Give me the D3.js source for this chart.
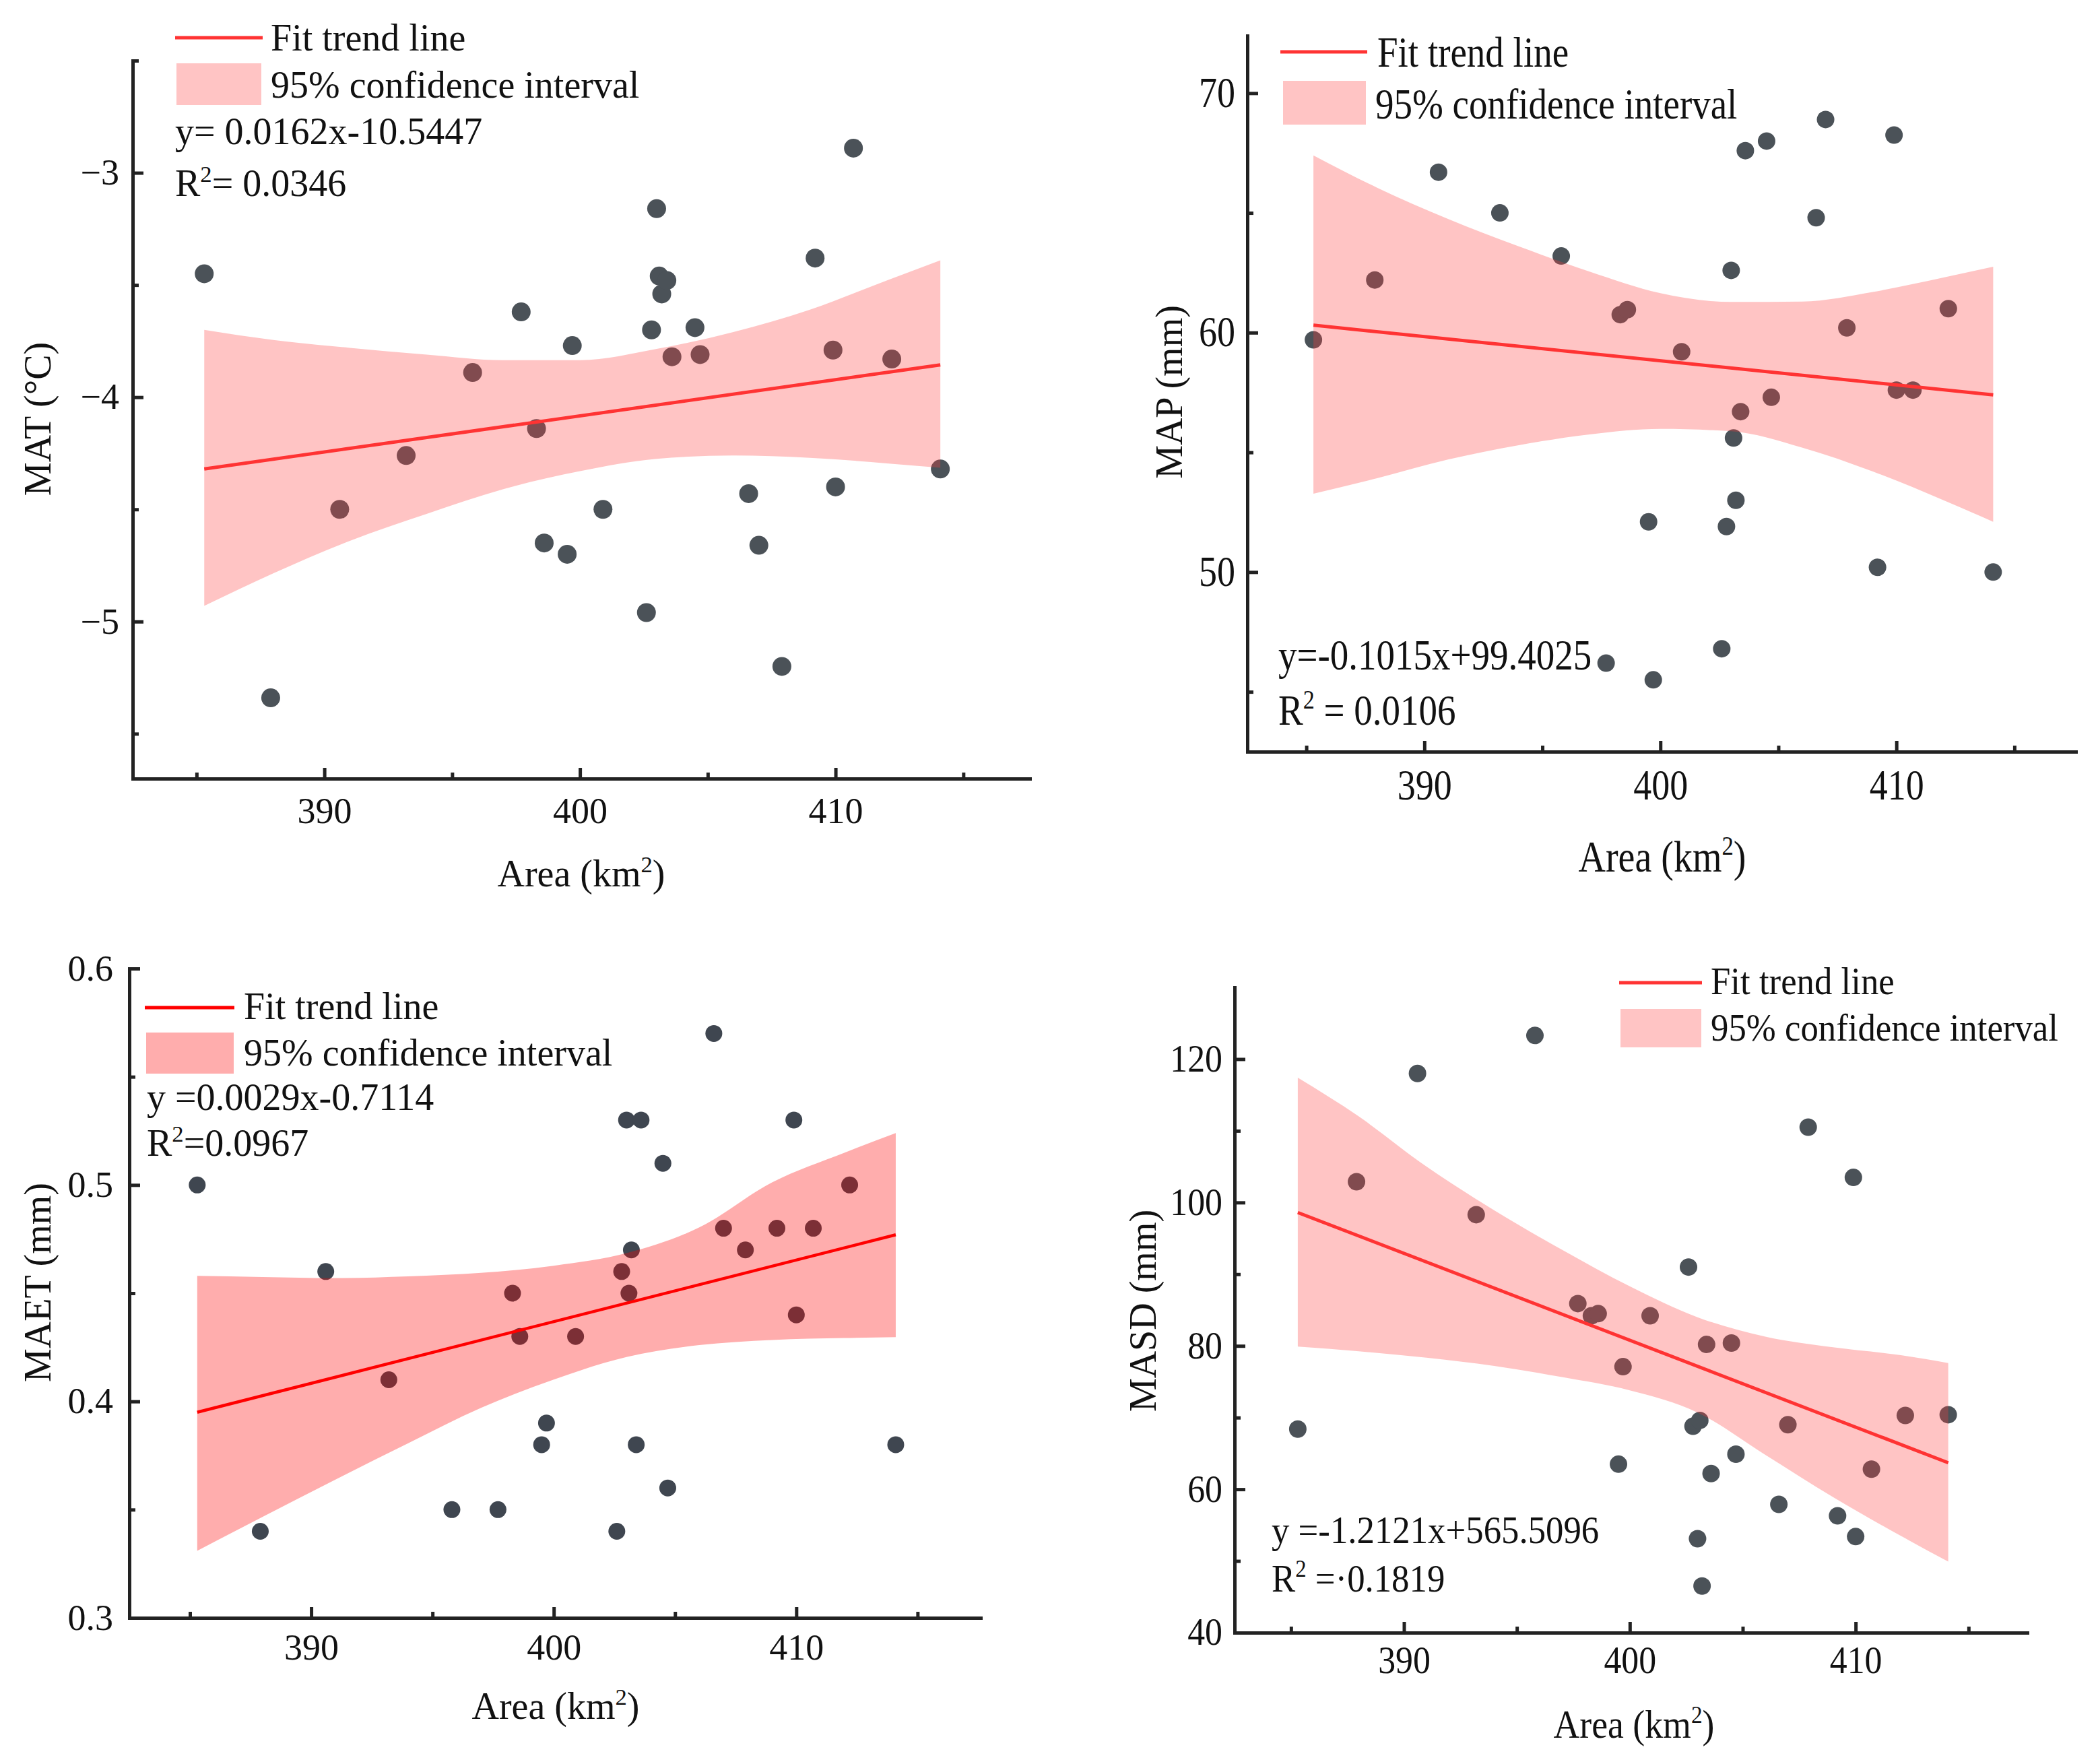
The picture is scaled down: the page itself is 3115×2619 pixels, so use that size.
<!DOCTYPE html>
<html><head><meta charset="utf-8">
<script src="https://cdn.jsdelivr.net/npm/d3@7"></script>
<style>
body{margin:0;background:#fff}
svg{display:block}
text{font-family:"Liberation Serif","Times New Roman",serif;fill:#111}
</style>
</head><body>
<svg id="c" width="3115" height="2619"></svg>
<script>
// ---------------- DATA ----------------
const areas = [385.3, 387.9, 390.6, 393.2, 395.8, 397.7, 398.3, 398.6, 399.5, 399.7,
               400.9, 402.6, 402.8, 403.0, 403.1, 403.2, 403.4, 403.6, 404.5, 404.7,
               406.6, 407.0, 407.9, 409.2, 409.9, 410.0, 410.7, 412.2, 414.1];

const matValues  = [-3.45, -5.34, -4.50, -4.26, -3.89, -3.62, -4.14, -4.65, -4.70, -3.77,
                    -4.50, -4.96, -3.70, -3.16, -3.46, -3.54, -3.48, -3.82, -3.69, -3.81,
                    -4.43, -4.66, -5.20, -3.38, -3.79, -4.40, -2.89, -3.83, -4.32];
const mapValues  = [59.7, 62.2, 66.7, 65.0, 63.2, 46.2, 60.75, 60.96, 52.1, 45.5,
                    59.2, 46.8, 51.9, 62.6, 55.6, 53.0, 56.7, 67.6, 68.0, 57.3,
                    64.8, 68.9, 60.2, 50.2, 68.25, 57.6, 57.6, 61.0, 50.0];
const maetValues = [0.50, 0.34, 0.46, 0.41, 0.35, 0.35, 0.45, 0.43, 0.38, 0.39,
                    0.43, 0.34, 0.46, 0.53, 0.45, 0.47, 0.38, 0.53, 0.51, 0.36,
                    0.57, 0.48, 0.47, 0.48, 0.53, 0.44, 0.48, 0.50, 0.38];
const masdValues = [68.4, 102.9, 118.0, 98.3, 123.3, 85.9, 84.2, 84.5, 63.5, 77.1,
                    84.2, 91.0, 68.8, 53.1, 69.6, 46.5, 80.2, 62.2, 80.4, 64.9,
                    57.9, 69.0, 110.5, 56.3, 103.5, 53.4, 62.8, 70.3, 70.4];

// fitted trend line end points
const trendX    = [385.3, 414.1];
const matTrend  = [-4.32, -3.856];
const mapTrend  = [60.31, 57.40];
const maetTrend = [0.395, 0.477];
const masdTrend = [98.6, 63.7];

// 95% confidence band
const bandX       = [385.3, 388, 391, 394, 397, 400, 403, 406, 409, 412, 414.1];
const matBandHigh = [-3.70, -3.745, -3.78, -3.81, -3.835, -3.835, -3.785, -3.71, -3.61, -3.48, -3.39];
const matBandLow  = [-4.93, -4.785, -4.64, -4.52, -4.41, -4.33, -4.275, -4.26, -4.27, -4.295, -4.315];
const mapBandHigh = [67.4, 66.05, 64.75, 63.6, 62.55, 61.65, 61.28, 61.3, 61.7, 62.3, 62.75];
const mapBandLow  = [53.27, 53.92, 54.7, 55.3, 55.75, 55.98, 55.88, 55.2, 54.2, 53.0, 52.1];
const maetBandHigh= [0.458, 0.4575, 0.457, 0.4578, 0.4594, 0.4627, 0.4685, 0.4804, 0.5012, 0.515, 0.524];
const maetBandLow = [0.331, 0.3467, 0.3639, 0.3807, 0.397, 0.4101, 0.4205, 0.426, 0.4284, 0.4293, 0.4297];
const masdBandHigh= [117.4, 112.0, 105.0, 98.9, 93.4, 88.3, 84.0, 81.3, 79.8, 78.7, 77.6];
const masdBandLow = [79.9, 79.25, 78.35, 77.2, 75.65, 73.8, 70.7, 64.8, 58.9, 53.5, 49.9];

// ticks
const xTicks = [390, 400, 410];
const xMinor = [385, 395, 405, 415];
const matTicks = [-5, -4, -3],         matTickLabels = ["\u22125", "\u22124", "\u22123"], matMinor = [-5.5, -4.5, -3.5, -2.5];
const mapTicks = [50, 60, 70],          mapTickLabels = ["50", "60", "70"],                mapMinor = [45, 55, 65];
const maetTicks = [0.3, 0.4, 0.5, 0.6], maetTickLabels = ["0.3", "0.4", "0.5", "0.6"],     maetMinor = [0.35, 0.45, 0.55];
const masdTicks = [40, 60, 80, 100, 120], masdTickLabels = ["40", "60", "80", "100", "120"], masdMinor = [50, 70, 90, 110];

// texts
const legendLine = "Fit trend line";
const legendBand = "95% confidence interval";
const xTitle = [["Area (km", 0], ["2", 1], [")", 0]];

// ---------------- DRAW ----------------
const svg = d3.select("#c");
svg.append("rect").attr("width", 3115).attr("height", 2619).attr("fill", "#fff");

function rich(sel, parts, fs) {
  let sup = false;
  parts.forEach(([t, s]) => {
    const ts = sel.append("tspan").text(t);
    if (s && !sup) { ts.attr("dy", -fs * 0.38).attr("font-size", fs * 0.62); sup = true; }
    else if (!s && sup) { ts.attr("dy", fs * 0.38); sup = false; }
  });
}

function panel(cfg) {
  const g = svg.append("g");
  const x = d3.scaleLinear().domain([382.5, 417.6]).range(cfg.xr);
  const y = d3.scaleLinear().domain(cfg.yd).range(cfg.yr);
  const yb = cfg.yr[0], xl = cfg.xr[0];
  const sx = cfg.sx, sy = cfg.sy;
  const placed = (x0, y0) => g.append("text").attr("x", 0).attr("y", 0)
      .attr("transform", `translate(${x0},${y0}) scale(${sx},${sy})`);

  // points
  g.append("g").selectAll("circle").data(areas).join("circle")
    .attr("cx", d => x(d)).attr("cy", (d, i) => y(cfg.vals[i]))
    .attr("r", cfg.r).attr("fill", cfg.pt);

  // band
  const band = bandX.map((d, i) => [d, cfg.low[i], cfg.high[i]]);
  g.append("path").datum(band)
    .attr("d", d3.area().x(d => x(d[0])).y0(d => y(d[1])).y1(d => y(d[2])).curve(d3.curveMonotoneX))
    .attr("fill", cfg.bandFill).attr("fill-opacity", cfg.bandOp);

  // trend line
  g.append("path").datum(trendX.map((d, i) => [d, cfg.trend[i]]))
    .attr("d", d3.line().x(d => x(d[0])).y(d => y(d[1])))
    .attr("stroke", cfg.lineCol).attr("stroke-width", cfg.lw).attr("fill", "none");

  // axes
  const fs = cfg.fs;
  const xa = g.append("g").attr("transform", `translate(0,${yb})`)
    .call(d3.axisBottom(x).tickValues(xTicks).tickSize(-16).tickSizeOuter(0).tickFormat(d3.format("d")));
  xa.selectAll("text").attr("dy", 0).attr("y", 0)
    .attr("transform", `translate(0,${cfg.xlab}) scale(${sx},${sy})`);
  const xm = g.append("g").attr("transform", `translate(0,${yb})`)
    .call(d3.axisBottom(x).tickValues(xMinor).tickSize(-9).tickSizeOuter(0).tickFormat(""));
  xm.select(".domain").remove();

  const ya = g.append("g").attr("transform", `translate(${xl},0)`)
    .call(d3.axisLeft(y).tickValues(cfg.ticks).tickSize(-16).tickSizeOuter(0).tickPadding(cfg.ypad)
      .tickFormat((d, i) => cfg.labels[i]));
  ya.selectAll("text").attr("x", -cfg.ypad / sx).attr("transform", `scale(${sx},${sy})`);
  const ym = g.append("g").attr("transform", `translate(${xl},0)`)
    .call(d3.axisLeft(y).tickValues(cfg.minor).tickSize(-9).tickSizeOuter(0).tickFormat(""));
  ym.select(".domain").remove();

  [xa, xm, ya, ym].forEach(a => {
    a.selectAll("line").attr("stroke", "#222").attr("stroke-width", 5);
    a.selectAll(".domain").attr("stroke", "#222").attr("stroke-width", 5).attr("stroke-linecap", "square");
    a.selectAll("text").attr("font-size", fs).attr("font-family", '"Liberation Serif", serif').attr("fill", "#111");
  });

  // axis titles
  const xt = placed(cfg.xt[0], cfg.xt[1]).attr("text-anchor", "middle").attr("font-size", cfg.tfs);
  rich(xt, xTitle, cfg.tfs);
  g.append("text").attr("transform", `translate(${cfg.yt[0]},${cfg.yt[1]}) rotate(-90)`)
    .attr("text-anchor", "middle").attr("font-size", cfg.tfs).text(cfg.ytitle);

  // legend
  const L = cfg.leg;
  g.append("line").attr("x1", L.line[0]).attr("x2", L.line[1]).attr("y1", L.line[2]).attr("y2", L.line[2])
    .attr("stroke", cfg.lineCol).attr("stroke-width", 5);
  placed(L.t1[0], L.t1[1]).attr("font-size", L.fs).text(legendLine);
  g.append("rect").attr("x", L.rect[0]).attr("y", L.rect[1])
    .attr("width", L.rect[2] - L.rect[0]).attr("height", L.rect[3] - L.rect[1])
    .attr("fill", cfg.bandFill).attr("fill-opacity", cfg.bandOp);
  placed(L.t2[0], L.t2[1]).attr("font-size", L.fs).text(legendBand);
  placed(L.eq[0], L.eq[1]).attr("font-size", L.fs).text(cfg.eq);
  const r2 = placed(L.r2[0], L.r2[1]).attr("font-size", L.fs);
  rich(r2, cfg.r2, L.fs);
}

panel({
  xr: [197, 1529], yr: [1156, 90], yd: [-5.7, -2.5],
  vals: matValues, low: matBandLow, high: matBandHigh, trend: matTrend,
  ticks: matTicks, labels: matTickLabels, minor: matMinor,
  r: 14, pt: "#4b5258", bandFill: "#ff3a3a", bandOp: 0.30, lineCol: "#ff3333", lw: 5,
  fs: 54, tfs: 56, xlab: 66, ypad: 20, sx: 1, sy: 1,
  xt: [863, 1316], yt: [75, 622], ytitle: "MAT (\u00B0C)",
  eq: "y= 0.0162x-10.5447", r2: [["R", 0], ["2", 1], ["= 0.0346", 0]],
  leg: { fs: 56, line: [260, 390, 56], t1: [402, 75], rect: [262, 94, 388, 156], t2: [402, 145], eq: [260, 214], r2: [260, 291] }
});

panel({
  xr: [1852, 3082], yr: [1116, 53], yd: [42.5, 72.4],
  vals: mapValues, low: mapBandLow, high: mapBandHigh, trend: mapTrend,
  ticks: mapTicks, labels: mapTickLabels, minor: mapMinor,
  r: 13, pt: "#4b5258", bandFill: "#ff3a3a", bandOp: 0.30, lineCol: "#ff3333", lw: 5,
  fs: 54, tfs: 56, xlab: 71, ypad: 18, sx: 1, sy: 1.16,
  xt: [2468, 1294], yt: [1755, 582], ytitle: "MAP (mm)",
  eq: "y=-0.1015x+99.4025", r2: [["R", 0], ["2", 1], [" = 0.0106", 0]],
  leg: { fs: 55, line: [1901, 2030, 77], t1: [2045, 99], rect: [1905, 120, 2028, 185], t2: [2042, 176], eq: [1898, 994], r2: [1898, 1076] }
});

panel({
  xr: [192, 1456], yr: [2402, 1438], yd: [0.3, 0.6],
  vals: maetValues, low: maetBandLow, high: maetBandHigh, trend: maetTrend,
  ticks: maetTicks, labels: maetTickLabels, minor: maetMinor,
  r: 12.5, pt: "#3f4650", bandFill: "#ff0000", bandOp: 0.32, lineCol: "#ff0000", lw: 4.5,
  fs: 54, tfs: 56, xlab: 62, ypad: 24, sx: 1, sy: 1,
  xt: [825, 2552], yt: [75, 1904], ytitle: "MAET (mm)",
  eq: "y =0.0029x-0.7114", r2: [["R", 0], ["2", 1], ["=0.0967", 0]],
  leg: { fs: 56, line: [215, 348, 1496], t1: [362, 1513], rect: [217, 1533, 347, 1594], t2: [362, 1582], eq: [218, 1648], r2: [218, 1716] }
});

panel({
  xr: [1833, 3010], yr: [2424, 1466], yd: [40, 130],
  vals: masdValues, low: masdBandLow, high: masdBandHigh, trend: masdTrend,
  ticks: masdTicks, labels: masdTickLabels, minor: masdMinor,
  r: 13, pt: "#4b5258", bandFill: "#ff3a3a", bandOp: 0.30, lineCol: "#ff3333", lw: 5,
  fs: 54, tfs: 56, xlab: 60, ypad: 18, sx: 0.96, sy: 1.04,
  xt: [2426, 2580], yt: [1716, 1946], ytitle: "MASD (mm)",
  eq: "y =-1.2121x+565.5096", r2: [["R", 0], ["2", 1], [" =\u00B70.1819", 0]],
  leg: { fs: 55, line: [2404, 2527, 1459], t1: [2540, 1476], rect: [2406, 1498, 2526, 1555], t2: [2540, 1545], eq: [1888, 2291], r2: [1888, 2363] }
});
</script>
</body></html>
